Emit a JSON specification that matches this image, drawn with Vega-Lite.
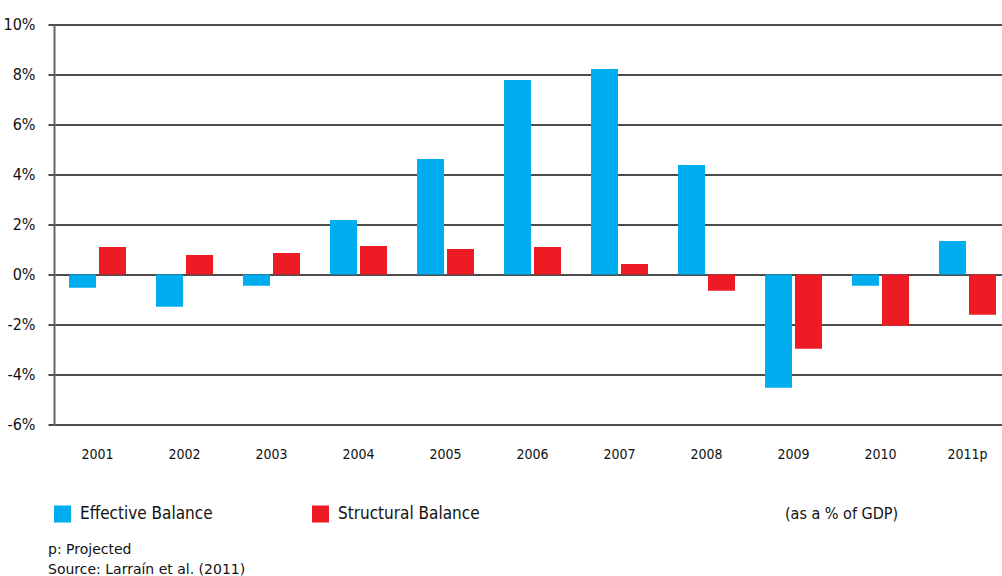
{
  "$schema": "https://vega.github.io/schema/vega-lite/v6.json",
  "width": 948,
  "height": 400,
  "autosize": {"type": "none"},
  "padding": {"left": 54, "top": 24.5, "right": 0, "bottom": 151.5},
  "background": "white",
  "title": {
    "text": ["p: Projected", "Source: Larraín et al. (2011)"],
    "orient": "bottom",
    "anchor": "start",
    "frame": "group",
    "dx": -6,
    "offset": 20,
    "font": "DejaVu Sans",
    "fontSize": 14,
    "fontWeight": "normal",
    "color": "#111",
    "lineHeight": 20
  },
  "data": {
    "values": [
      {"year": "2001", "series": "Effective Balance", "value": -0.53},
      {"year": "2001", "series": "Structural Balance", "value": 1.1},
      {"year": "2002", "series": "Effective Balance", "value": -1.29},
      {"year": "2002", "series": "Structural Balance", "value": 0.78},
      {"year": "2003", "series": "Effective Balance", "value": -0.45},
      {"year": "2003", "series": "Structural Balance", "value": 0.86},
      {"year": "2004", "series": "Effective Balance", "value": 2.18},
      {"year": "2004", "series": "Structural Balance", "value": 1.14},
      {"year": "2005", "series": "Effective Balance", "value": 4.62},
      {"year": "2005", "series": "Structural Balance", "value": 1.02},
      {"year": "2006", "series": "Effective Balance", "value": 7.78},
      {"year": "2006", "series": "Structural Balance", "value": 1.1},
      {"year": "2007", "series": "Effective Balance", "value": 8.22},
      {"year": "2007", "series": "Structural Balance", "value": 0.42},
      {"year": "2008", "series": "Effective Balance", "value": 4.38},
      {"year": "2008", "series": "Structural Balance", "value": -0.65},
      {"year": "2009", "series": "Effective Balance", "value": -4.53},
      {"year": "2009", "series": "Structural Balance", "value": -2.97},
      {"year": "2010", "series": "Effective Balance", "value": -0.45},
      {"year": "2010", "series": "Structural Balance", "value": -2.05},
      {"year": "2011p", "series": "Effective Balance", "value": 1.34},
      {"year": "2011p", "series": "Structural Balance", "value": -1.61}
    ]
  },
  "mark": {"type": "bar"},
  "encoding": {
    "x": {
      "field": "year",
      "type": "nominal",
      "sort": null,
      "scale": {"paddingInner": 0.345, "paddingOuter": 0.1725, "range": [0, 957]},
      "axis": {
        "title": "(as a % of GDP)",
        "titleX": 787,
        "titleY": 89,
        "titleAlign": "center",
        "titleBaseline": "middle",
        "titleFont": "DejaVu Sans Condensed",
        "titleFontSize": 16,
        "titleFontWeight": "normal",
        "titleColor": "#111",
        "labelAngle": 0,
        "labelFont": "DejaVu Sans Condensed",
        "labelFontSize": 14,
        "labelColor": "#111",
        "labelPadding": 23,
        "ticks": false,
        "tickSize": 0,
        "domain": false,
        "grid": false
      }
    },
    "xOffset": {
      "field": "series",
      "type": "nominal",
      "scale": {"paddingInner": 0.1, "paddingOuter": 0}
    },
    "y": {
      "field": "value",
      "type": "quantitative",
      "scale": {"domain": [-6, 10], "nice": false},
      "axis": {
        "title": null,
        "values": [-6, -4, -2, 0, 2, 4, 6, 8, 10],
        "labelExpr": "datum.value + '%'",
        "labelFont": "DejaVu Sans Condensed",
        "labelFontSize": 16,
        "labelColor": "#111",
        "labelPadding": 13,
        "tickSize": 6,
        "tickColor": "#111",
        "tickWidth": 1.5,
        "grid": true,
        "gridColor": "#111",
        "gridWidth": 1.6,
        "domain": true,
        "domainColor": "#666",
        "domainWidth": 2
      }
    },
    "color": {
      "field": "series",
      "type": "nominal",
      "scale": {"domain": ["Effective Balance", "Structural Balance"], "range": ["#00AEEF", "#ED1C24"]},
      "legend": {
        "orient": "none",
        "legendX": 0,
        "legendY": 481,
        "direction": "horizontal",
        "title": null,
        "symbolType": "square",
        "symbolSize": 289,
        "symbolStrokeWidth": 0,
        "symbolOpacity": 1,
        "labelFont": "DejaVu Sans Condensed",
        "labelFontSize": 17,
        "labelColor": "#111",
        "labelOffset": 9,
        "columnPadding": 99,
        "padding": 0
      }
    }
  },
  "config": {"view": {"stroke": null}}
}
